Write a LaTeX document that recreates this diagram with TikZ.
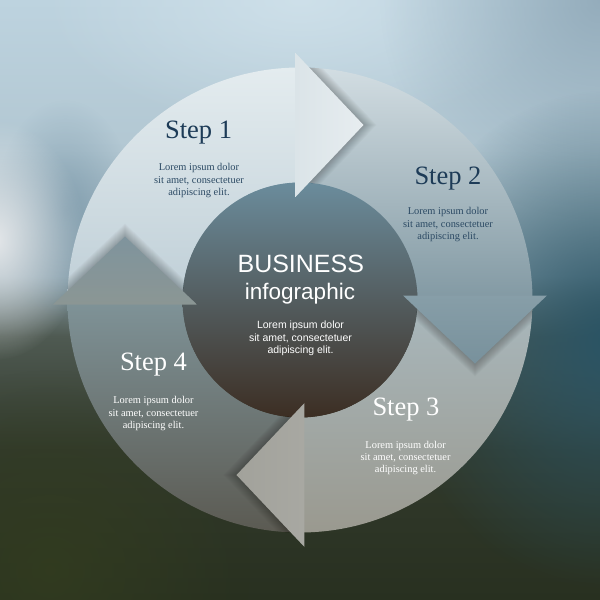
\documentclass[tikz,border=0pt]{standalone}
\usepackage{fontspec}
\setmainfont{Liberation Serif}
\newfontfamily\sansf{Liberation Sans}
\usetikzlibrary{fadings}

\definecolor{bgA}{HTML}{283020}
\definecolor{bgB}{HTML}{323A2C}
\definecolor{bgC}{HTML}{4F5A52}
\definecolor{bgD}{HTML}{8AA2AE}
\definecolor{bgE}{HTML}{B2C7D2}
\definecolor{bgF}{HTML}{BDD3DF}
\pgfdeclareverticalshading{bgv}{100bp}{color(0bp)=(bgA); color(25bp)=(bgA); color(37.5bp)=(bgB); color(47bp)=(bgC); color(52bp)=(bgD); color(62.5bp)=(bgE); color(75bp)=(bgF); color(100bp)=(bgF)}

\definecolor{tealbg}{HTML}{2A5465}
\definecolor{leftlight}{HTML}{E8EAEC}
\definecolor{leftblue}{HTML}{6F8FA2}
\definecolor{toprightbg}{HTML}{8AA3B3}
\definecolor{topbg}{HTML}{D2E3EC}
\definecolor{olivebg}{HTML}{333D1F}

\definecolor{bandAt}{HTML}{E4ECEF}
\definecolor{bandAb}{HTML}{BFCFD7}
\definecolor{bandBt}{HTML}{D2DDE2}
\definecolor{bandBb}{HTML}{8299A3}
\definecolor{bandCt}{HTML}{A9B8BD}
\definecolor{bandCb}{HTML}{9A998F}
\definecolor{bandDt}{HTML}{7F9398}
\definecolor{bandDb}{HTML}{5B5A52}
\definecolor{headAl}{HTML}{DBE4E8}
\definecolor{headAr}{HTML}{E7EDF0}
\definecolor{headBt}{HTML}{879EA8}
\definecolor{headBb}{HTML}{78919C}
\definecolor{headCl}{HTML}{A2A29B}
\definecolor{headCr}{HTML}{A8A8A2}
\definecolor{headDt}{HTML}{7F949D}
\definecolor{headDb}{HTML}{8B9694}
\definecolor{coreT}{HTML}{6B8C9C}
\definecolor{coreM}{HTML}{47585E}
\definecolor{coreB}{HTML}{3C2E23}
\definecolor{navy}{HTML}{1D3B57}
\definecolor{navytext}{HTML}{2C4A64}

\tikzfading[name=softblob, inner color=transparent!0, outer color=transparent!100]

\newcommand\bandpath[2]{(#1:232.5pt) arc[start angle=#1, end angle=#2, radius=232.5pt] -- (#2:117.5pt) arc[start angle=#2, end angle=#1, radius=117.5pt] -- cycle}

\tikzset{
  steplabel/.style={font=\fontsize{26.5}{30}\selectfont, inner sep=0pt, anchor=base},
  lorem/.style={font=\fontsize{10.4}{12.3}\selectfont, align=center, inner sep=0pt},
  shadowpiece/.style={fill=black, fill opacity=0.02},
}

\begin{document}
\begin{tikzpicture}[x=1pt,y=1pt]
\useasboundingbox (-300,-300) rectangle (300,300);
% background
\shade[shading=bgv] (-300,-300) rectangle (300,300);
\fill[topbg, fill opacity=0.8, path fading=softblob] (0,300) ellipse [x radius=260, y radius=130];
\fill[toprightbg, fill opacity=0.8, path fading=softblob] (300,300) circle [radius=220];
\fill[tealbg, path fading=softblob] (310,-40) ellipse [x radius=220, y radius=250];
\fill[leftblue, fill opacity=0.6, path fading=softblob] (-235,90) ellipse [x radius=70, y radius=110];
\fill[leftlight, fill opacity=0.95, path fading=softblob] (-305,60) ellipse [x radius=90, y radius=120];
\fill[olivebg, fill opacity=0.8, path fading=softblob] (-250,-270) circle [radius=200];

% ring bands
\shade[top color=bandAt, bottom color=bandAb] \bandpath{90}{180};
\shade[top color=bandBt, bottom color=bandBb] \bandpath{0}{90};
\shade[top color=bandCt, bottom color=bandCb] \bandpath{-90}{0};
\shade[top color=bandDt, bottom color=bandDb] \bandpath{180}{270};

% core circle
\shade[top color=coreT, middle color=coreM, bottom color=coreB] (0,0) circle [radius=117.5pt];

% soft shadows of the heads, each on the following band
\begin{scope}
\clip \bandpath{0}{90};
\foreach \s in {1,...,13}
  \fill[shadowpiece] (-4.5+\s,103) -- (-4.5+\s,247) -- (63.5+\s,175) -- cycle;
\end{scope}
\begin{scope}
\clip \bandpath{-90}{0};
\foreach \s in {1,...,13}
  \fill[shadowpiece] (103,4.5-\s) -- (247,4.5-\s) -- (175,-63.5-\s) -- cycle;
\end{scope}
\begin{scope}
\clip \bandpath{180}{270};
\foreach \s in {1,...,13}
  \fill[shadowpiece] (4.5-\s,-103) -- (4.5-\s,-247) -- (-63.5-\s,-175) -- cycle;
\end{scope}
\begin{scope}
\clip \bandpath{90}{180};
\foreach \s in {1,...,13}
  \fill[shadowpiece] (-103,-4.5+\s) -- (-247,-4.5+\s) -- (-175,63.5+\s) -- cycle;
\end{scope}

% arrow heads
\shade[left color=headAl, right color=headAr] (-4.5,103) -- (-4.5,247) -- (63.5,175) -- cycle;
\shade[top color=headBt, bottom color=headBb] (103,4.5) -- (247,4.5) -- (175,-63.5) -- cycle;
\shade[left color=headCl, right color=headCr] (4.5,-103) -- (4.5,-247) -- (-63.5,-175) -- cycle;
\shade[top color=headDt, bottom color=headDb] (-103,-4.5) -- (-247,-4.5) -- (-175,63.5) -- cycle;

% texts
\node[steplabel, text=navy] (s1) at (-101.4,161.8) {Step 1};
\node[lorem, text=navytext] (l1) at (-101,119.4) {Lorem ipsum dolor\\sit amet, consectetuer\\adipiscing elit.};
\node[steplabel, text=navy] (s2) at (148,115) {Step 2};
\node[lorem, text=navytext] (l2) at (148,75.4) {Lorem ipsum dolor\\sit amet, consectetuer\\adipiscing elit.};
\node[steplabel, text=white] (s3) at (106,-115.6) {Step 3};
\node[lorem, text=white] (l3) at (105.6,-158) {Lorem ipsum dolor\\sit amet, consectetuer\\adipiscing elit.};
\node[steplabel, text=white] (s4) at (-146.5,-70) {Step 4};
\node[lorem, text=white] (l4) at (-146.5,-113.7) {Lorem ipsum dolor\\sit amet, consectetuer\\adipiscing elit.};

\node[font=\sansf\fontsize{25}{28}\selectfont, text=white, inner sep=0pt, anchor=base] (biz) at (0.8,27.5) {BUSINESS};
\node[font=\sansf\fontsize{22.5}{26}\selectfont, text=white, inner sep=0pt, anchor=base] (info) at (0,0.7) {infographic};
\node[font=\sansf\fontsize{10.5}{12.6}\selectfont, text=white, align=center, inner sep=0pt] (lc) at (0.5,-38.3) {Lorem ipsum dolor\\sit amet, consectetuer\\adipiscing elit.};
\end{tikzpicture}
\end{document}
